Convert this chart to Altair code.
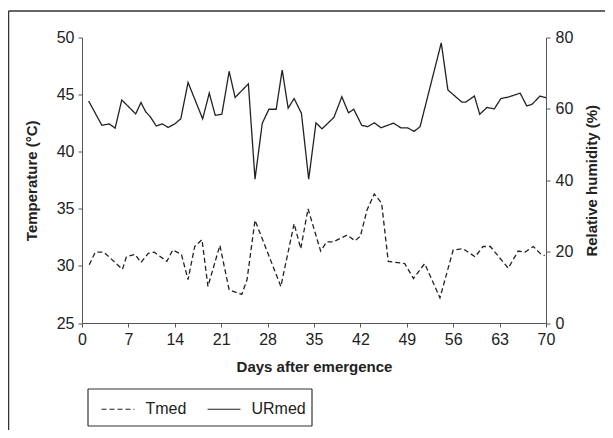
import altair as alt
import pandas as pd

# ---- data ----
ur_days = [1.0, 3.0, 4.1, 5.0, 6.0, 8.1, 8.9, 9.6, 10.3, 11.2, 12.1, 13.0, 14.0, 14.9, 16.0,
           18.2, 19.2, 20.1, 21.1, 22.2, 23.1, 25.1, 26.1, 27.2, 28.2, 29.3, 30.2, 31.1, 32.0,
           33.1, 34.2, 35.3, 36.2, 38.0, 39.2, 40.2, 41.0, 42.2, 43.1, 44.1, 45.1, 47.0, 48.1,
           49.1, 50.1, 51.0, 54.2, 55.2, 57.3, 57.9, 59.2, 60.0, 61.1, 62.2, 63.2, 64.3, 66.1,
           67.1, 67.9, 69.1, 70.0]
ur_vals = [62.2, 55.4, 55.8, 54.6, 62.5, 58.6, 61.8, 59.2, 57.8, 55.2, 55.8, 54.8, 55.8, 57.2,
           67.4, 57.2, 64.4, 58.2, 58.5, 70.5, 63.2, 67.0, 40.3, 56.0, 59.9, 59.9, 70.9, 60.2,
           62.9, 58.8, 40.3, 56.1, 54.4, 57.6, 63.4, 58.9, 59.9, 55.4, 55.0, 56.1, 54.7, 56.0,
           54.7, 54.7, 53.7, 55.0, 78.5, 65.3, 61.9, 61.9, 63.6, 58.5, 60.4, 60.0, 62.9, 63.3,
           64.4, 60.8, 61.3, 63.6, 63.1]

t_days = [1.1, 2.0, 3.3, 6.1, 6.7, 8.0, 8.9, 10.0, 10.9, 12.8, 13.7, 15.0, 16.0, 17.0, 18.1,
          19.0, 20.8, 22.2, 24.1, 24.9, 26.1, 30.0, 32.0, 33.0, 34.1, 36.0, 36.9, 37.9, 40.0,
          41.2, 42.0, 43.0, 44.1, 45.2, 46.2, 48.7, 50.0, 51.7, 54.0, 56.0, 57.5, 59.3, 60.5,
          61.6, 64.3, 65.8, 66.8, 68.1, 69.1, 69.8]
t_vals = [30.1, 31.2, 31.2, 29.7, 30.8, 31.0, 30.3, 31.1, 31.2, 30.4, 31.4, 31.0, 28.8, 31.7,
          32.3, 28.2, 31.8, 27.9, 27.5, 28.8, 34.0, 28.2, 33.7, 31.5, 35.0, 31.3, 32.1, 32.1,
          32.7, 32.2, 32.6, 34.9, 36.3, 35.5, 30.4, 30.2, 28.9, 30.2, 27.2, 31.4, 31.5, 30.8,
          31.7, 31.7, 29.8, 31.3, 31.2, 31.7, 31.1, 30.9]

series_names = ["Tmed", "URmed"]
x_ticks = [0, 7, 14, 21, 28, 35, 42, 49, 56, 63, 70]
t_ticks = [25, 30, 35, 40, 45, 50]
ur_ticks = [0, 20, 40, 60, 80]

FONT = "Liberation Sans, Arial, sans-serif"
LBL = 16
TTL = 15
INK = "#222222"
AX = "#555555"
FRAME = "#333333"

df_t = pd.DataFrame({"day": t_days, "value": t_vals, "series": series_names[0]})
df_u = pd.DataFrame({"day": ur_days, "value": ur_vals, "series": series_names[1]})

dash = alt.StrokeDash(
    "series:N",
    scale=alt.Scale(domain=series_names, range=[[5, 3], [1, 0]]),
    legend=alt.Legend(
        orient="none", legendX=18.5, legendY=354, direction="horizontal", title=None,
        symbolType="stroke", symbolSize=1089, symbolStrokeWidth=1.2,
        symbolStrokeColor=INK, labelFont=FONT, labelFontSize=LBL, labelColor=INK,
        labelOffset=10, columnPadding=18, padding=0,
    ),
)

x = alt.X(
    "day:Q",
    scale=alt.Scale(domain=[0, 70], nice=False, zero=False),
    axis=alt.Axis(
        values=x_ticks, title="Days after emergence", grid=False,
        labelFont=FONT, labelFontSize=LBL, labelColor=INK, labelPadding=4,
        labelFlush=False, labelOverlap=False,
        tickSize=4, tickColor=AX, domainColor=AX,
        titleFont=FONT, titleFontSize=TTL, titleFontWeight="bold", titleColor=INK,
        titlePadding=12,
    ),
)

temp = alt.Chart(df_t).mark_line(color=INK, strokeWidth=1.3).encode(
    x=x,
    y=alt.Y(
        "value:Q",
        scale=alt.Scale(domain=[25, 50], nice=False, zero=False),
        axis=alt.Axis(
            orient="left", values=t_ticks, title="Temperature (°C)", grid=False,
            labelFont=FONT, labelFontSize=LBL, labelColor=INK, labelPadding=4,
            labelFlush=False, labelOverlap=False,
            tickSize=4, tickColor=AX, domainColor=AX,
            titleFont=FONT, titleFontSize=TTL, titleFontWeight="bold", titleColor=INK,
            titlePadding=17,
        ),
    ),
    strokeDash=dash,
)

rh = alt.Chart(df_u).mark_line(color=INK, strokeWidth=1.3).encode(
    x=x,
    y=alt.Y(
        "value:Q",
        scale=alt.Scale(domain=[0, 80], nice=False, zero=False),
        axis=alt.Axis(
            orient="right", values=ur_ticks, title="Relative humidity (%)", grid=False,
            labelFont=FONT, labelFontSize=LBL, labelColor=INK, labelPadding=5,
            labelFlush=False, labelOverlap=False,
            tickSize=4, tickColor=AX, domainColor=AX,
            titleFont=FONT, titleFontSize=TTL, titleFontWeight="bold", titleColor=INK,
            titlePadding=12, titleAngle=270, titleBaseline="top",
        ),
    ),
    strokeDash=dash,
)

one = pd.DataFrame({"a": [0]})


def hrule(x1, x2, y, w=1.5):
    return alt.Chart(one).mark_rule(color=FRAME, strokeWidth=w).encode(
        x=alt.value(x1), x2=alt.value(x2), y=alt.value(y)
    )


def vrule(x, y1, y2, w=1.5):
    return alt.Chart(one).mark_rule(color=FRAME, strokeWidth=w).encode(
        x=alt.value(x), y=alt.value(y1), y2=alt.value(y2)
    )


frame_top = hrule(-73.5, 530, -26.5)
frame_left = vrule(-73.5, -26.5, 400)
box_top = hrule(6, 230, 351.5, 1.2)
box_bottom = hrule(6, 230, 388.5, 1.2)
box_left = vrule(6, 351.5, 388.5, 1.2)
box_right = vrule(230, 351.5, 388.5, 1.2)

chart = (
    alt.layer(temp, rh, frame_top, frame_left, box_top, box_bottom, box_left, box_right)
    .resolve_scale(y="independent")
    .properties(
        width=464, height=285.5,
        padding={"left": 74, "top": 29.5, "right": 59, "bottom": 107},
        autosize=alt.AutoSizeParams(type="none"),
    )
    .configure_view(stroke=None)
)

chart.save("out.html", embed_options={"renderer": "svg", "actions": False})
